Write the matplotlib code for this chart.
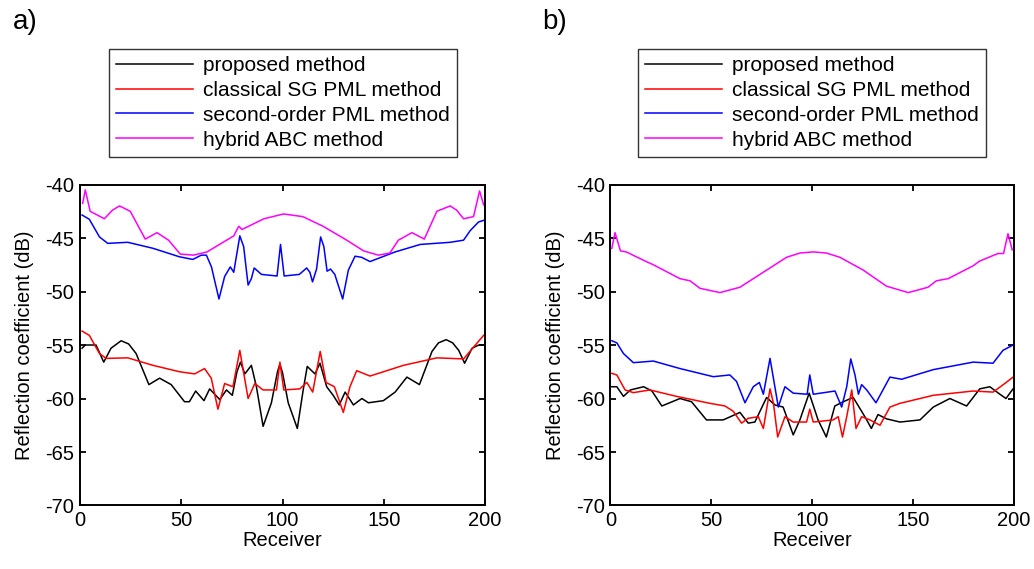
import matplotlib
matplotlib.use("Agg")
import matplotlib.pyplot as plt

plt.rcParams['font.family'] = ['Liberation Sans', 'DejaVu Sans']
plt.rcParams['axes.unicode_minus'] = False

labels = ["proposed method", "classical SG PML method",
          "second-order PML method", "hybrid ABC method"]
colors = ["#000000", "#ff0000", "#0000ff", "#ff00ff"]

# ---------------- panel a ----------------
a_prop_x = [1, 2.6, 7.9, 11.7, 15.3, 20.3, 24, 27.7, 34, 39.3, 45, 51.6, 54, 57.1, 61.2, 64, 69, 72.3, 75.2,
            77.5, 79.2, 81.4, 84.6, 87.1, 90.4, 94.5, 97.5, 98.7, 100, 102.8, 107.3, 110.2, 112.2, 116, 118.5,
            121.8, 125, 128, 130.9, 135, 139.2, 142.4, 149.8, 155.6, 161.4, 167.6, 173.8, 177, 180.8, 184,
            187, 189.9, 193.6, 196.9, 199.3]
a_prop_y = [-55.3, -55.0, -55.0, -56.6, -55.3, -54.6, -54.9, -55.8, -58.7, -58.1, -58.7, -60.3, -60.3, -59.3,
            -60.2, -59.1, -60.1, -59.2, -59.7, -57.5, -56.6, -57.7, -56.9, -58.9, -62.6, -60.4, -57.5,
            -56.8, -57.6, -60.4, -62.8, -59.2, -57.0, -57.7, -56.7, -58.9, -59.7, -60.6, -59.4, -60.6,
            -60.0, -60.4, -60.2, -59.4, -58.0, -58.7, -55.6, -54.8, -54.5, -54.8, -55.5, -56.7, -55.3,
            -55.0, -55.0]

a_sg_x = [1, 4.6, 9.6, 12.9, 23.6, 36, 49.2, 56.6, 61.5, 64.8, 68.1, 71.4, 75.5, 78.9, 80.9, 83, 86.3,
          90.4, 97, 98.7, 100.6, 108.5, 112, 114.9, 118.6, 121.5, 125.6, 130, 133.3, 136.6, 143.2,
          159.7, 176.2, 189.4, 194.3, 199.3]
a_sg_y = [-53.7, -54.1, -55.8, -56.25, -56.2, -56.9, -57.5, -57.7, -57.2, -58.1, -61.0, -58.6, -58.9,
          -55.5, -57.7, -60.0, -58.6, -59.2, -59.2, -56.6, -59.2, -59.1, -58.5, -59.4, -55.6, -58.5,
          -58.9, -61.3, -58.9, -57.4, -57.9, -56.9, -56.2, -56.3, -55.2, -54.1]

a_so_x = [1, 4.6, 9.6, 13.7, 23.6, 36, 49, 55.7, 59.9, 62.4, 64.9, 68.6, 71.4, 74.2, 75.9, 78.9, 80.8,
          83, 84.6, 86, 89.6, 97.3, 99, 100.8, 108.3, 111.9, 113.5, 114.8, 116.8, 118.8, 120.4, 122,
          123.7, 125.8, 129.7, 132.5, 135.8, 139, 143.2, 155.6, 168, 182.8, 189.4, 192.7, 196.8, 199.3]
a_so_y = [-42.85, -43.25, -44.9, -45.5, -45.4, -45.96, -46.75, -47.0, -46.6, -46.6, -47.7, -50.7, -48.6,
          -47.7, -48.2, -44.8, -45.8, -49.4, -48.8, -47.8, -48.4, -48.55, -45.6, -48.55, -48.4, -47.8,
          -48.2, -49.1, -47.9, -44.9, -45.8, -48.1, -47.9, -48.4, -50.7, -48.0, -46.7, -46.8, -47.2,
          -46.3, -45.6, -45.4, -45.2, -44.3, -43.5, -43.35]

a_hy_x = [1.3, 2.6, 5, 12, 16, 19.5, 24.8, 32.2, 38, 43.7, 49.5, 56, 62.7, 75.9, 78.4, 80, 90.8, 100.5, 110,
          120, 131.7, 140, 147.3, 153, 157.2, 163.9, 170, 176.2, 182.8, 186, 189.4, 194.3, 197.3, 199.3]
a_hy_y = [-41.76, -40.5, -42.5, -43.2, -42.4, -42.0, -42.5, -45.1, -44.5, -45.2, -46.5, -46.6, -46.3,
          -44.8, -43.9, -44.2, -43.2, -42.75, -43.0, -43.9, -45.2, -46.2, -46.6, -46.4, -45.2, -44.5,
          -45.1, -42.5, -42.0, -42.4, -43.2, -43.0, -40.6, -41.9]

# ---------------- panel b ----------------
b_prop_x = [0.7, 3.2, 6.5, 9.9, 16.5, 20.6, 25.5, 34.5, 40.2, 47.6, 55.9, 64.2, 68.3, 71.6, 77.4, 81.5,
            85.6, 90.6, 93.9, 98.5, 102.9, 107, 111.2, 115.4, 120.3, 124.5, 127, 129.3, 132.6, 136.8,
            143.5, 153.4, 160, 168.2, 176.5, 183, 188, 193, 196, 199.5]
b_prop_y = [-58.9, -58.9, -59.8, -59.2, -58.9, -59.3, -60.7, -60.0, -60.3, -62.0, -62.0, -61.3, -62.3,
            -62.2, -59.9, -60.6, -60.8, -63.4, -62.0, -59.5, -62.0, -63.6, -60.7, -60.3, -59.9, -61.2,
            -62.0, -62.8, -61.5, -61.9, -62.2, -62.0, -60.8, -60.0, -60.7, -59.1, -58.9, -59.6, -60.0,
            -59.1]

b_sg_x = [0.7, 3.2, 7.3, 11.4, 19.6, 32.8, 49.3, 56.8, 60.9, 65, 68.3, 73.3, 75.8, 79.1, 80.8, 82.9,
          86.5, 90.6, 97.2, 98.8, 100.5, 110.4, 112.9, 115, 117.1, 119.6, 121.7, 124.5, 128.6, 133.6,
          138.5, 143.5, 160, 179.7, 189.6, 195.4, 199.5]
b_sg_y = [-57.65, -57.8, -59.2, -59.45, -59.2, -59.8, -60.45, -60.7, -61.2, -62.3, -61.85, -61.7, -62.8,
          -59.1, -60.45, -63.6, -61.7, -62.2, -62.2, -61.0, -62.2, -62.0, -61.7, -63.6, -61.7, -59.2,
          -62.8, -61.7, -62.0, -62.5, -60.8, -60.45, -59.7, -59.3, -59.4, -58.6, -58.0]

b_so_x = [0.7, 3.2, 6.5, 11.4, 21.3, 34.5, 51, 59.2, 62.5, 66.7, 70.8, 73.8, 75.8, 79.1, 81.5, 83.2,
          86.5, 90.6, 97.5, 98.8, 100.5, 111.3, 114.6, 117.1, 119.1, 121.2, 122.9, 124.5, 127, 131.6,
          138.5, 144.3, 160, 179.7, 189.6, 194.5, 199.5]
b_so_y = [-54.6, -54.8, -55.8, -56.65, -56.5, -57.2, -57.96, -57.8, -58.4, -60.4, -58.9, -58.5, -59.6,
          -56.25, -58.9, -60.8, -58.9, -59.5, -59.6, -57.8, -59.6, -59.3, -60.8, -58.9, -56.3, -57.8,
          -59.6, -58.7, -59.2, -60.4, -58.0, -58.2, -57.3, -56.6, -56.7, -55.5, -55.0]

b_hy_x = [0.7, 2.3, 5, 7.9, 17.2, 21.3, 34.5, 39.5, 44.4, 54.3, 64.2, 77.4, 87.3, 94, 100.5, 107, 113.7,
          125.3, 136.8, 147.6, 157.4, 161.5, 167.3, 179.7, 183, 192, 194.8, 197, 199.1]
b_hy_y = [-45.97, -44.5, -46.2, -46.3, -47.15, -47.5, -48.8, -49.0, -49.7, -50.1, -49.6, -48.0, -46.8,
          -46.4, -46.3, -46.4, -46.8, -48.0, -49.5, -50.1, -49.6, -49.0, -48.8, -47.6, -47.15, -46.45,
          -46.45, -44.6, -46.1]

panels = [
    ("a)", [(a_prop_x, a_prop_y), (a_sg_x, a_sg_y), (a_so_x, a_so_y), (a_hy_x, a_hy_y)]),
    ("b)", [(b_prop_x, b_prop_y), (b_sg_x, b_sg_y), (b_so_x, b_so_y), (b_hy_x, b_hy_y)]),
]

xticks = [0, 50, 100, 150, 200]
yticks = [-70, -65, -60, -55, -50, -45, -40]

fig = plt.figure(figsize=(10.34, 5.69), dpi=100)
ax_rects = [[0.0774, 0.1116, 0.3917, 0.5641], [0.5903, 0.1116, 0.3904, 0.5641]]
legend_centers = [(0.2735, 0.8193), (0.7853, 0.8193)]
tag_pos = [(0.012, 0.985), (0.524, 0.985)]

for i, (tag, series) in enumerate(panels):
    ax = fig.add_axes(ax_rects[i])
    handles = []
    for (xs, ys), c, lab in zip(series, colors, labels):
        h, = ax.plot(xs, ys, color=c, lw=1.1, label=lab)
        handles.append(h)
    ax.set_xlim(0, 200)
    ax.set_ylim(-70, -40)
    ax.set_xticks(xticks)
    ax.set_yticks(yticks)
    ax.tick_params(direction='in', top=True, right=True, length=4, width=1.3,
                   labelsize=14.5, pad=4)
    for sp in ax.spines.values():
        sp.set_linewidth(1.4)
    ax.set_xlabel("Receiver", fontsize=14.5, labelpad=1)
    ax.set_ylabel("Reflection coefficient (dB)", fontsize=14.5, labelpad=8)
    leg = ax.legend(handles=handles, loc='center', bbox_to_anchor=legend_centers[i],
                    bbox_transform=fig.transFigure, fontsize=15, frameon=True,
                    fancybox=False, edgecolor='black', handlelength=3.7,
                    handletextpad=0.45, labelspacing=0.28, borderpad=0.35, borderaxespad=0)
    leg.get_frame().set_linewidth(1.0)
    fig.text(tag_pos[i][0], tag_pos[i][1], tag, fontsize=20, ha='left', va='top')

fig.savefig("out.png", dpi=100)
